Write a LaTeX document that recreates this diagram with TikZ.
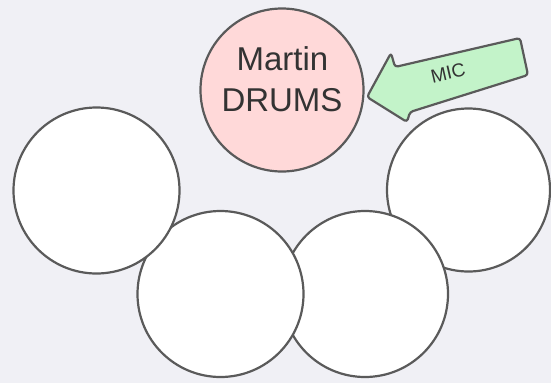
\documentclass[tikz,border=0pt]{standalone}
\usepackage{fontspec}
\setmainfont{Liberation Sans}
\definecolor{bgc}{HTML}{F0F0F5}
\definecolor{strokec}{HTML}{5A5A5A}
\definecolor{pinkc}{HTML}{FFD9D9}
\definecolor{greenc}{HTML}{C3F3C9}
\definecolor{txtc}{HTML}{333333}
\begin{document}
\begin{tikzpicture}[x=1pt,y=-1pt,
  drum/.style={circle,draw=strokec,line width=2.2pt,fill=white,minimum size=#1,inner sep=0pt},
  bigtxt/.style={text=txtc,font=\fontsize{33}{40}\selectfont,inner sep=0pt},
  mictxt/.style={text=txtc,font=\fontsize{19}{22}\selectfont,inner sep=0pt}]
\fill[bgc] (0,0) rectangle (551,383);
\useasboundingbox (0,0) rectangle (551,383);
\node[drum=163pt] (right) at (468.5,190) {};
\node[drum=166pt] (bright) at (365,294) {};
\node[drum=166pt] (bleft) at (220.5,294) {};
\node[drum=166pt] (left) at (96.5,190.5) {};
\node[drum=163pt,fill=pinkc] (drums) at (282,90) {};
\node[bigtxt,anchor=base] (l1) at (282.5,70) {Martin};
\node[bigtxt,anchor=base] (l2) at (282,111) {DRUMS};
\coordinate (tip) at (367,97);
\draw[draw=strokec,fill=greenc,line width=2.2pt,rounded corners=3pt,line join=round]
  (tip) -- (391,53) -- (395,67) -- (520,38) -- (528,75) -- (410,112) -- (407,122) -- cycle;
\node[mictxt,rotate=13] (mic) at (448,73) {MIC};
\end{tikzpicture}
\end{document}
